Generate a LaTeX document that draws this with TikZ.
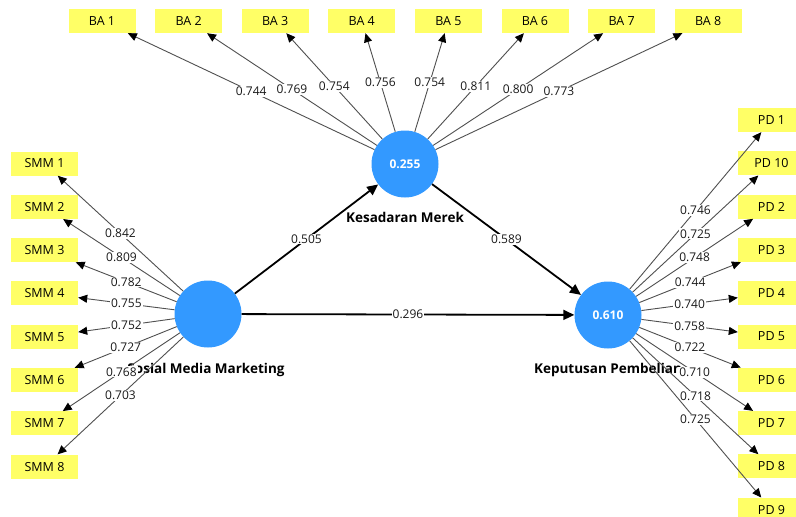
\documentclass[tikz,border=0pt]{standalone}
\usepackage{fontspec}
\setmainfont{Open Sans}
\usetikzlibrary{arrows.meta}
\definecolor{lvblue}{RGB}{51,153,255}
\definecolor{indyellow}{RGB}{255,255,102}
\definecolor{loadgray}{RGB}{80,80,80}
\tikzset{
  lv/.style={circle, fill=lvblue, draw=none, minimum size=67pt, inner sep=0pt,
    text=white, font=\fontsize{12}{13}\selectfont\bfseries},
  lvname/.style={font=\fontsize{13.5}{14}\selectfont\bfseries, text=black, inner sep=0pt},
  ind/.style={rectangle, fill=indyellow, draw=none, minimum width=67pt, minimum height=24pt,
    inner sep=0pt, font=\fontsize{12.5}{13}\selectfont, text=black},
  loading/.style={draw=loadgray, line width=0.9pt, -{Triangle[length=9pt,width=8pt,color=black]}},
  structural/.style={draw=black, line width=1.8pt, -{Triangle[length=11pt,width=10pt]}},
  val/.style={fill=white, inner sep=1pt, font=\fontsize{12}{13}\selectfont, text=black!90, midway}
}
\begin{document}
\begin{tikzpicture}[x=1pt,y=-1pt]
\useasboundingbox (0,0) rectangle (796,517);
\fill[white] (0,0) rectangle (796,517);
% latent variables
\node[lv] (smm) at (208,314) {};
\node[lv] (km) at (405,164) {0.255};
\node[lv] (kp) at (608,315) {0.610};
\node[lvname] (smmname) at (206,370) {Sosial Media Marketing};
\node[lvname] (kmname) at (405,217) {Kesadaran Merek};
\node[lvname] (kpname) at (608,370) {Keputusan Pembelian};
% indicators
\foreach \i in {1,...,8}{
  \node[ind] (s\i) at (44.5,{163.5+43.3*(\i-1)}) {SMM \i};
  \node[ind] (b\i) at ({102+86.6*(\i-1)},21) {BA \i};
}
\foreach \lab [count=\k] in {1,10,2,3,4,5,6,7,8,9}{
  \node[ind] (p\k) at (771.5,{120+43.3*(\k-1)}) {PD \lab};
}
% structural paths
\draw[structural] (smm) -- node[val]{0.505} (km);
\draw[structural] (smm) -- node[val]{0.296} (kp);
\draw[structural] (km) -- node[val]{0.589} (kp);
% loadings
\foreach \v [count=\i] in {0.842,0.809,0.782,0.755,0.752,0.727,0.768,0.703}{
  \draw[loading] (smm) -- node[val]{\v} (s\i);
}
\foreach \v [count=\i] in {0.744,0.769,0.754,0.756,0.754,0.811,0.800,0.773}{
  \draw[loading] (km) -- node[val]{\v} (b\i);
}
\foreach \v [count=\i] in {0.746,0.725,0.748,0.744,0.740,0.758,0.722,0.710,0.718,0.725}{
  \draw[loading] (kp) -- node[val]{\v} (p\i);
}
\end{tikzpicture}
\end{document}
